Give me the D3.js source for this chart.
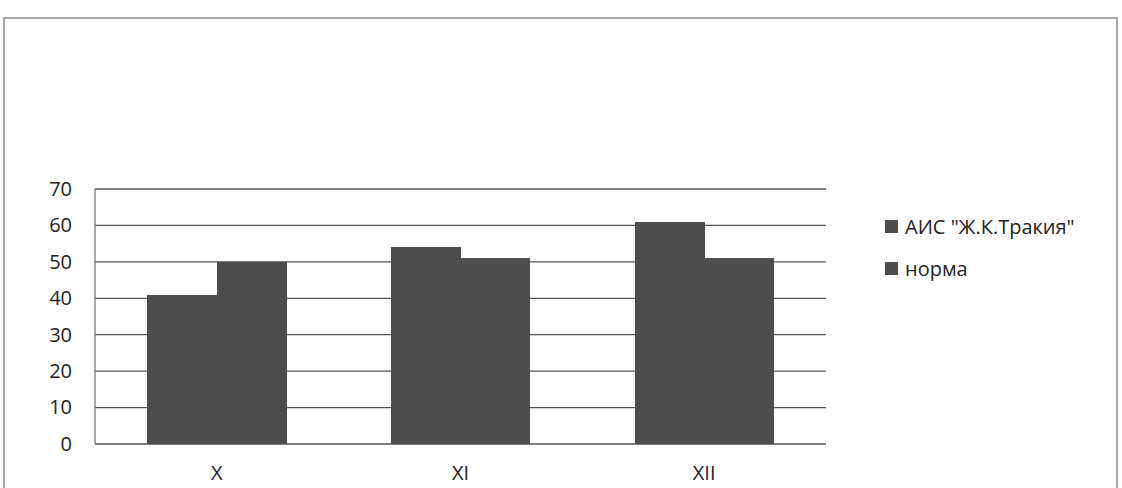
<!DOCTYPE html>
<html lang="bg">
<head>
<meta charset="UTF-8">
<title>АИС Ж.К.Тракия</title>
<script src="https://d3js.org/d3.v7.min.js"></script>
<style>
  body { margin: 0; background: #fff; }
  svg { display: block; }
  text { font-family: "Open Sans", "DejaVu Sans", sans-serif; fill: #222; }
  .axis path { display: none; }
  .axis line { display: none; }
</style>
</head>
<body>
<svg width="1122" height="488"></svg>
<script>
var months = ["X", "XI", "XII"];
var seriesNames = ['АИС "Ж.К.Тракия"', "норма"];
var aisValues = [41, 54, 61];
var normValues = [50, 51, 51];
var yTicks = [0, 10, 20, 30, 40, 50, 60, 70];

var svg = d3.select("svg");
var barColor = "#4d4d4d";

// outer frame (scanned border)
svg.append("rect")
    .attr("x", 4).attr("y", 18)
    .attr("width", 1113).attr("height", 490)
    .attr("fill", "none").attr("stroke", "#8a8a8a").attr("stroke-width", 1.5);

var plotLeft = 95, plotRight = 826, plotTop = 189, plotBottom = 444;

var x = d3.scaleBand().domain(months).range([plotLeft, plotRight]).paddingInner(0.43).paddingOuter(0.215);
var xs = d3.scaleBand().domain(seriesNames).range([0, x.bandwidth()]);
var y = d3.scaleLinear().domain([0, 70]).range([plotBottom, plotTop]);

// gridlines
svg.append("g").selectAll("line").data(yTicks).enter().append("line")
    .attr("x1", plotLeft).attr("x2", plotRight)
    .attr("y1", d => y(d)).attr("y2", d => y(d))
    .attr("stroke", "#555").attr("stroke-width", 1.3);

svg.append("line")
    .attr("x1", plotLeft).attr("x2", plotLeft).attr("y1", plotTop).attr("y2", plotBottom)
    .attr("stroke", "#777").attr("stroke-width", 1.3);

var data = months.map((m, i) => ({ m: m, vals: [aisValues[i], normValues[i]] }));

var groups = svg.append("g").selectAll("g").data(data).enter().append("g")
    .attr("transform", d => "translate(" + x(d.m) + ",0)");

groups.selectAll("rect").data(d => d.vals.map((v, j) => ({ s: seriesNames[j], v: v })))
    .enter().append("rect")
    .attr("x", d => xs(d.s))
    .attr("width", xs.bandwidth() + 0.5)
    .attr("y", d => y(d.v))
    .attr("height", d => y(0) - y(d.v))
    .attr("fill", barColor)
    .attr("shape-rendering", "crispEdges");

var yAxis = d3.axisLeft(y).tickValues(yTicks).tickSize(0).tickPadding(23);
svg.append("g").attr("class", "axis").attr("transform", "translate(" + plotLeft + ",0)")
    .call(yAxis)
    .selectAll("text").style("font-size", "20px");

var xAxis = d3.axisBottom(x).tickSize(0).tickPadding(22);
svg.append("g").attr("class", "axis").attr("transform", "translate(0," + plotBottom + ")")
    .call(xAxis)
    .selectAll("text").style("font-size", "20px");

// legend
var legend = svg.append("g").selectAll("g").data(seriesNames).enter().append("g")
    .attr("transform", (d, i) => "translate(885," + (227 + i * 42) + ")");
legend.append("rect").attr("x", 0).attr("y", -7).attr("width", 13).attr("height", 13).attr("fill", barColor);
legend.append("text").attr("x", 20).attr("dy", "0.35em").style("font-size", "20px").text(d => d);
</script>
</body>
</html>
